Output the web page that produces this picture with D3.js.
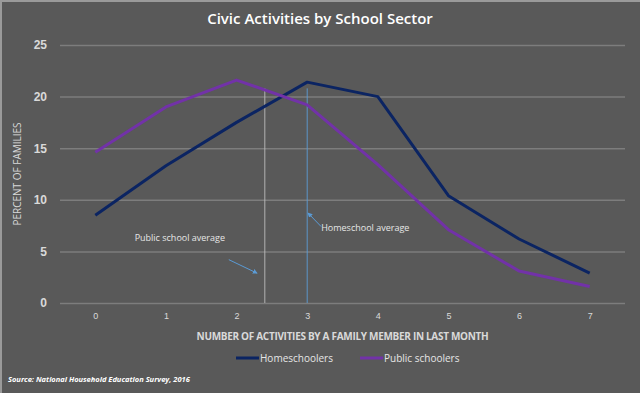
<!DOCTYPE html>
<html>
<head>
<meta charset="utf-8">
<script src="https://cdn.jsdelivr.net/npm/d3@7"></script>
<style>
  body { margin: 0; background: #595959; }
  svg { display: block; font-family: "Open Sans", sans-serif; }
</style>
</head>
<body>
<div id="chart"></div>
<script>
// chart data
const activities = ["0", "1", "2", "3", "4", "5", "6", "7"];
const homeschoolers = [8.5, 13.3, 17.5, 21.4, 20.0, 10.4, 6.2, 2.9];
const publicSchoolers = [14.6, 19.0, 21.6, 19.2, 13.4, 7.1, 3.1, 1.6];
const yTicks = [0, 5, 10, 15, 20, 25];
const averages = [
    { name: "Public school average", value: 2.4 },
    { name: "Homeschool average", value: 3.0 }
];
const seriesNames = ["Homeschoolers", "Public schoolers"];

const WIDTH = 640, HEIGHT = 393;
const MARGIN = { LEFT: 60, RIGHT: 15, TOP: 45, BOTTOM: 90 };
const innerW = WIDTH - MARGIN.LEFT - MARGIN.RIGHT;
const innerH = HEIGHT - MARGIN.TOP - MARGIN.BOTTOM;

const svg = d3.select("#chart").append("svg")
    .attr("width", WIDTH)
    .attr("height", HEIGHT);

// background + light frame
svg.append("rect")
    .attr("width", WIDTH).attr("height", HEIGHT)
    .attr("fill", "#595959");
svg.append("path")
    .attr("d", `M1,${HEIGHT} V1 H${WIDTH}`)
    .attr("fill", "none")
    .attr("stroke", "#9a9a9a")
    .attr("stroke-width", 2);

const g = svg.append("g")
    .attr("transform", `translate(${MARGIN.LEFT}, ${MARGIN.TOP})`);

// scales
const x = d3.scalePoint().domain(activities).range([0, innerW]).padding(0.5);
const y = d3.scaleLinear().domain([0, 25]).range([innerH, 0]);
// continuous version of x for the average markers
const xNum = d3.scaleLinear().domain([0, 7]).range([x("0"), x("7")]);

// gridlines
const yAxis = g.append("g")
    .call(d3.axisLeft(y).tickValues(yTicks).tickSize(-innerW).tickPadding(13));
yAxis.select(".domain").remove();
yAxis.selectAll("line").attr("stroke", "#7d7d7d").attr("stroke-width", 1.5);
yAxis.selectAll("text")
    .attr("fill", "#d9d9d9")
    .attr("font-size", "12px")
    .attr("font-weight", "600");

const xAxis = g.append("g")
    .attr("transform", `translate(0, ${innerH})`)
    .call(d3.axisBottom(x).tickSize(0).tickPadding(10));
xAxis.select(".domain").remove();
xAxis.selectAll("text")
    .attr("fill", "#d9d9d9")
    .attr("font-size", "9px");

// average lines
const avgColors = ["#bdbdbd", "#5b9bd5"];
averages.forEach((a, i) => {
    g.append("line")
        .attr("x1", xNum(a.value)).attr("x2", xNum(a.value))
        .attr("y1", y(20.8)).attr("y2", y(0))
        .attr("stroke", avgColors[i])
        .attr("stroke-width", 0.9);
});

// lines
const line = d3.line()
    .x((d, i) => x(activities[i]))
    .y(d => y(d));
const colors = ["#0b2462", "#7232a8"];
[homeschoolers, publicSchoolers].forEach((s, i) => {
    g.append("path")
        .attr("d", line(s))
        .attr("fill", "none")
        .attr("stroke", colors[i])
        .attr("stroke-width", 3)
        .attr("stroke-linejoin", "round");
});

// arrow marker
svg.append("defs").append("marker")
    .attr("id", "arrow")
    .attr("viewBox", "0 0 10 10")
    .attr("refX", 8).attr("refY", 5)
    .attr("markerWidth", 5).attr("markerHeight", 5)
    .attr("orient", "auto")
    .append("path")
    .attr("d", "M0,0 L10,5 L0,10 z")
    .attr("fill", "#5b9bd5");

// annotations
const hx = xNum(3.0), px = xNum(2.4);
g.append("line")
    .attr("x1", hx + 14).attr("y1", y(7.4))
    .attr("x2", hx + 1).attr("y2", y(8.7))
    .attr("stroke", "#5b9bd5").attr("stroke-width", 1)
    .attr("marker-end", "url(#arrow)");
g.append("text")
    .attr("x", hx + 14).attr("y", y(7.4) + 4)
    .attr("fill", "#e6e6e6")
    .attr("font-size", "9px")
    .text(averages[1].name);

g.append("line")
    .attr("x1", px - 36).attr("y1", y(4.2))
    .attr("x2", px - 8).attr("y2", y(2.9))
    .attr("stroke", "#5b9bd5").attr("stroke-width", 1)
    .attr("marker-end", "url(#arrow)");
g.append("text")
    .attr("x", px - 85).attr("y", y(6.4) + 4)
    .attr("text-anchor", "middle")
    .attr("fill", "#e6e6e6")
    .attr("font-size", "9px")
    .text(averages[0].name);

// title
svg.append("text")
    .attr("x", 320).attr("y", 24)
    .attr("text-anchor", "middle")
    .attr("fill", "#ffffff")
    .attr("font-size", "15px")
    .attr("font-weight", "600")
    .text("Civic Activities by School Sector");

// axis titles
svg.append("text")
    .attr("x", MARGIN.LEFT + innerW / 2).attr("y", 340)
    .attr("text-anchor", "middle")
    .attr("fill", "#d9d9d9")
    .attr("font-size", "10px")
    .attr("font-weight", "bold")
    .attr("letter-spacing", "-0.3px")
    .text("NUMBER OF ACTIVITIES BY A FAMILY MEMBER IN LAST MONTH");
svg.append("text")
    .attr("transform", "translate(21, 174) rotate(-90)")
    .attr("text-anchor", "middle")
    .attr("fill", "#d9d9d9")
    .attr("font-size", "10px")
    .text("PERCENT OF FAMILIES");

// legend
const legendX = [236, 360];
seriesNames.forEach((name, i) => {
    const lg = svg.append("g").attr("transform", `translate(${legendX[i]}, 358)`);
    lg.append("line")
        .attr("x1", 0).attr("x2", 23)
        .attr("stroke", colors[i]).attr("stroke-width", 3);
    lg.append("text")
        .attr("x", 24).attr("y", 4)
        .attr("fill", "#e6e6e6")
        .attr("font-size", "10px")
        .text(name);
});

// source
svg.append("text")
    .attr("x", 8).attr("y", 382)
    .attr("fill", "#ffffff")
    .attr("font-size", "7.5px")
    .attr("font-style", "italic")
    .attr("font-weight", "bold")
    .text("Source: National Household Education Survey, 2016");
</script>
</body>
</html>
